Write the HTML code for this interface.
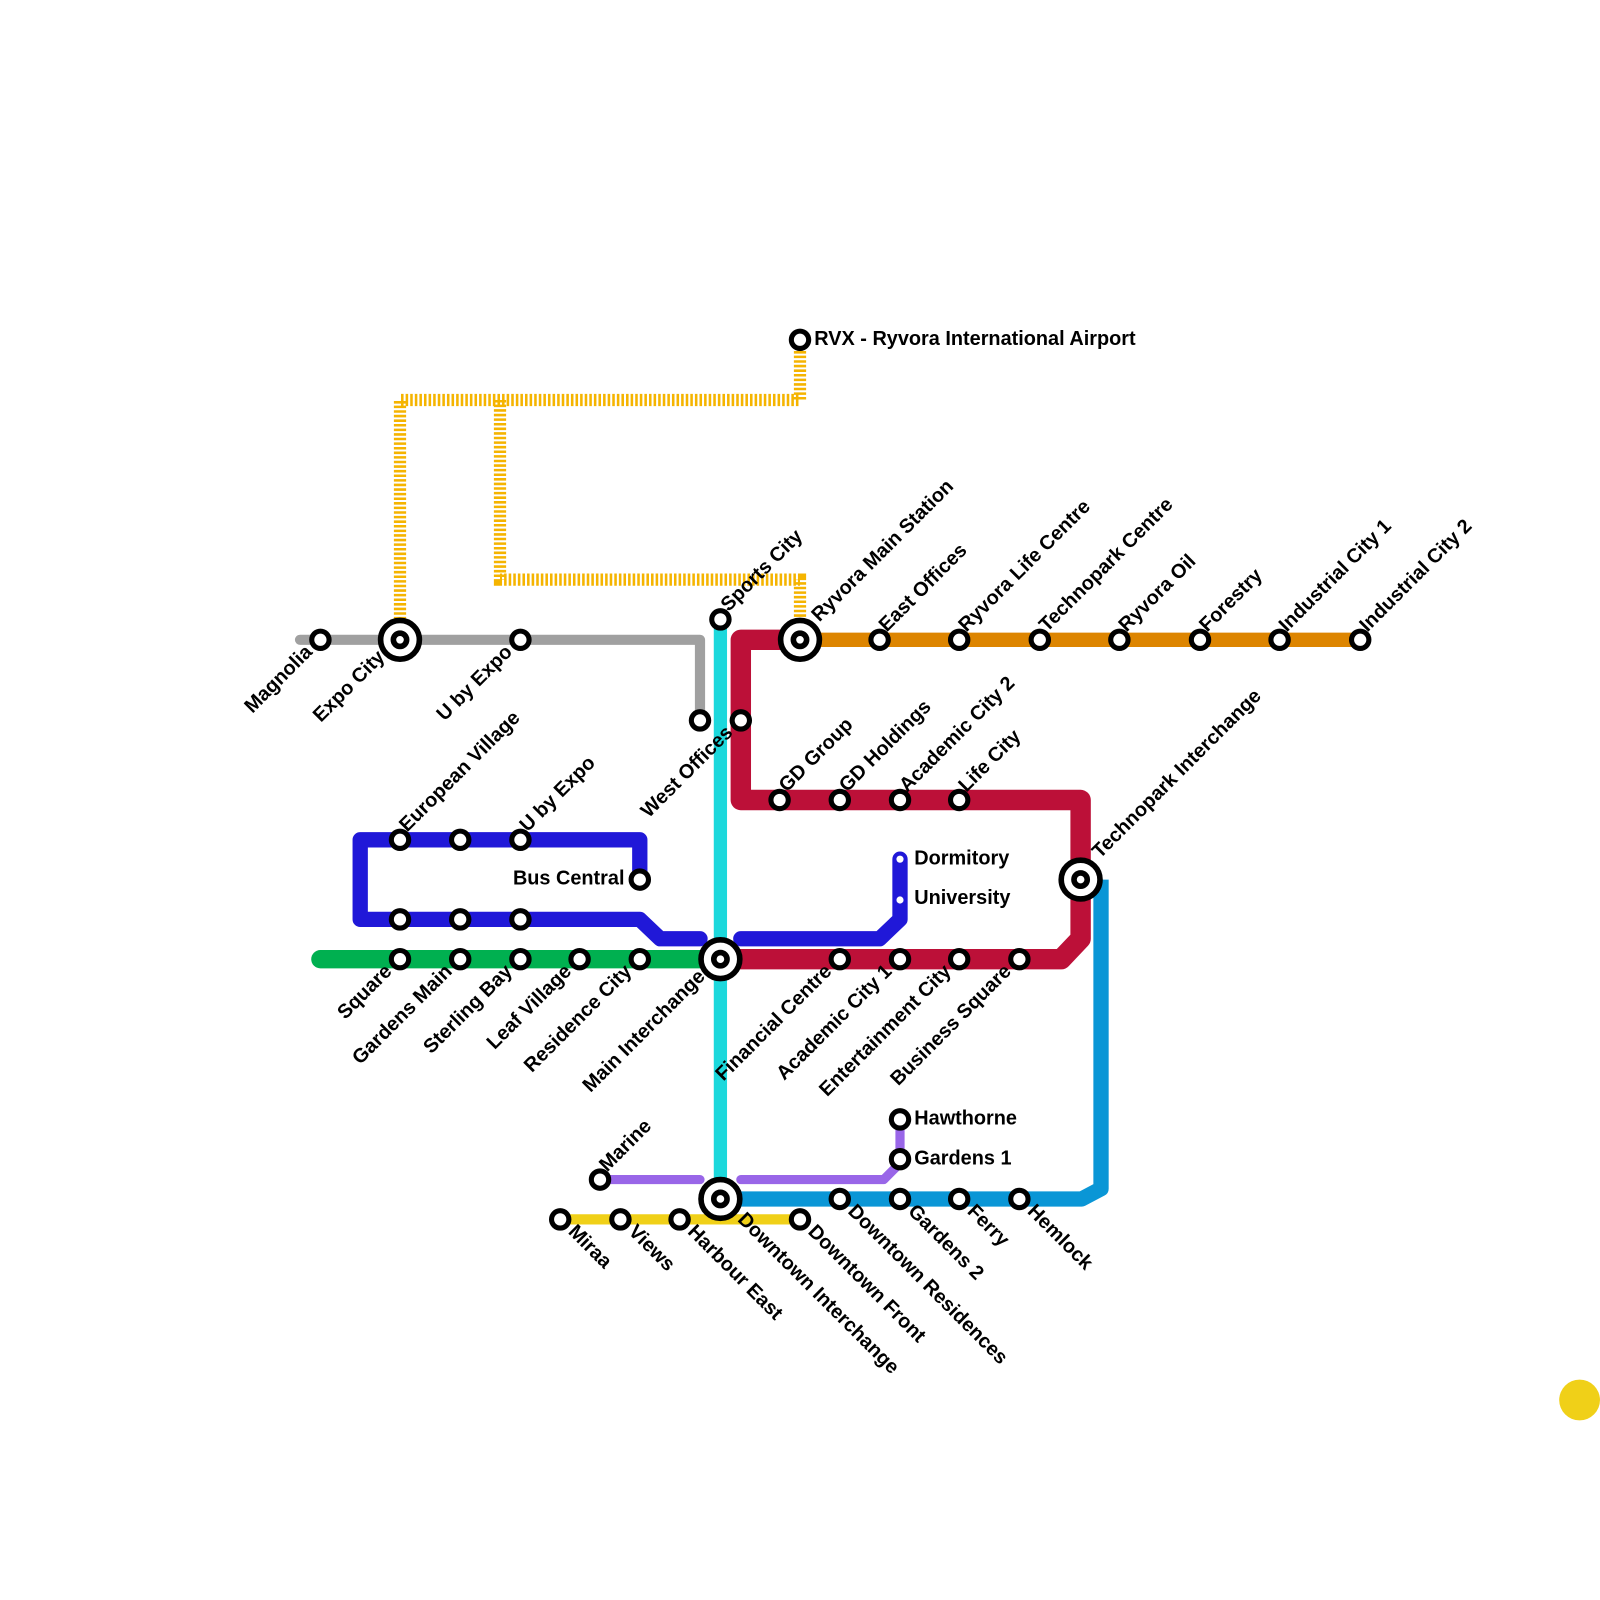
<!DOCTYPE html>
<html><head><meta charset="utf-8"><style>
html,body{margin:0;padding:0;background:#fff;}
svg{display:block;}
text{font-family:"Liberation Sans",sans-serif;font-weight:bold;font-size:19.5px;fill:#000;}
</style></head><body>
<svg width="1600" height="1600" viewBox="0 0 1600 1600" xmlns="http://www.w3.org/2000/svg">
<g transform="scale(1.020408)">
<g fill="none" stroke-linejoin="round" stroke-linecap="round">
<polyline points="392,607 392,392 784,392 784,340" stroke="#f5b400" stroke-width="12" stroke-dasharray="2.5 2" stroke-linecap="butt" stroke-linejoin="miter"/>
<polyline points="490,392 490,568 784,568 784,607" stroke="#f5b400" stroke-width="12" stroke-dasharray="2.5 2" stroke-linecap="butt" stroke-linejoin="miter"/>
<polyline points="294,627 686,627 686,706" stroke="#a0a0a0" stroke-width="10"/>
<polyline points="314,940 706,940" stroke="#00b050" stroke-width="18"/>
<polyline points="784,627 1333,627" stroke="#dd8500" stroke-width="14" stroke-linecap="butt"/>
<polyline points="706,607 706,1175" stroke="#1cd8dc" stroke-width="13"/>
<polyline points="784,627 726,627 726,784 1059,784 1059,920 1040,940 706,940" stroke="#bc1038" stroke-width="20" stroke-linecap="butt"/>
<polyline points="627,862 627,823 353,823 353,901 627,901 647,920 686,920" stroke="#2018d8" stroke-width="15"/>
<polyline points="726,920 862,920 882,901 882,842" stroke="#2018d8" stroke-width="15"/>
<polyline points="1079,862 1079,1165 1060,1175 706,1175" stroke="#0a96d6" stroke-width="15" stroke-linecap="butt"/>
<polyline points="588,1156 686,1156" stroke="#9966e8" stroke-width="9"/>
<polyline points="726,1156 866,1156 882,1140 882,1097" stroke="#9966e8" stroke-width="9"/>
<polyline points="549,1195 784,1195" stroke="#f0d018" stroke-width="10"/>
</g>
<g fill="#fff" stroke="#000" stroke-width="5">
<circle cx="314" cy="627" r="8.5"/><circle cx="510" cy="627" r="8.5"/>
<circle cx="686" cy="706" r="8.5"/><circle cx="726" cy="706" r="8.5"/>
<circle cx="706" cy="607" r="8.5"/><circle cx="784" cy="333" r="8.5"/>
<circle cx="862" cy="627" r="8.5"/><circle cx="940" cy="627" r="8.5"/><circle cx="1019" cy="627" r="8.5"/><circle cx="1097" cy="627" r="8.5"/><circle cx="1176" cy="627" r="8.5"/><circle cx="1254" cy="627" r="8.5"/><circle cx="1333" cy="627" r="8.5"/>
<circle cx="392" cy="823" r="8.5"/><circle cx="451" cy="823" r="8.5"/><circle cx="510" cy="823" r="8.5"/>
<circle cx="627" cy="862" r="8.5"/>
<circle cx="392" cy="901" r="8.5"/><circle cx="451" cy="901" r="8.5"/><circle cx="510" cy="901" r="8.5"/>
<circle cx="392" cy="940" r="8.5"/><circle cx="451" cy="940" r="8.5"/><circle cx="510" cy="940" r="8.5"/><circle cx="568" cy="940" r="8.5"/><circle cx="627" cy="940" r="8.5"/>
<circle cx="764" cy="784" r="8.5"/><circle cx="823" cy="784" r="8.5"/><circle cx="882" cy="784" r="8.5"/><circle cx="940" cy="784" r="8.5"/>
<circle cx="823" cy="940" r="8.5"/><circle cx="882" cy="940" r="8.5"/><circle cx="940" cy="940" r="8.5"/><circle cx="999" cy="940" r="8.5"/>
<circle cx="882" cy="1097" r="8.5"/><circle cx="882" cy="1136" r="8.5"/>
<circle cx="588" cy="1156" r="8.5"/>
<circle cx="823" cy="1175" r="8.5"/><circle cx="882" cy="1175" r="8.5"/><circle cx="940" cy="1175" r="8.5"/><circle cx="999" cy="1175" r="8.5"/>
<circle cx="549" cy="1195" r="8.5"/><circle cx="608" cy="1195" r="8.5"/><circle cx="666" cy="1195" r="8.5"/><circle cx="784" cy="1195" r="8.5"/>
</g>
<circle cx="882" cy="842" r="3.5" fill="#fff"/><circle cx="882" cy="882" r="3.5" fill="#fff"/>
<g fill="#fff" stroke="#000">
<circle cx="392" cy="627" r="19" stroke-width="5.5"/><circle cx="392" cy="627" r="6.5" stroke-width="5.5"/>
<circle cx="784" cy="627" r="19" stroke-width="5.5"/><circle cx="784" cy="627" r="6.5" stroke-width="5.5"/>
<circle cx="706" cy="940" r="19" stroke-width="5.5"/><circle cx="706" cy="940" r="6.5" stroke-width="5.5"/>
<circle cx="1059" cy="862" r="19" stroke-width="5.5"/><circle cx="1059" cy="862" r="6.5" stroke-width="5.5"/>
<circle cx="706" cy="1175" r="19" stroke-width="5.5"/><circle cx="706" cy="1175" r="6.5" stroke-width="5.5"/>
</g>
<circle cx="1548" cy="1372" r="20" fill="#f0d018"/>
<g>
<text transform="translate(714,600) rotate(-45)">Sports City</text>
<text transform="translate(803,610) rotate(-45)">Ryvora Main Station</text>
<text transform="translate(869,620) rotate(-45)">East Offices</text>
<text transform="translate(947,620) rotate(-45)">Ryvora Life Centre</text>
<text transform="translate(1026,620) rotate(-45)">Technopark Centre</text>
<text transform="translate(1104,620) rotate(-45)">Ryvora Oil</text>
<text transform="translate(1183,620) rotate(-45)">Forestry</text>
<text transform="translate(1261,620) rotate(-45)">Industrial City 1</text>
<text transform="translate(1340,620) rotate(-45)">Industrial City 2</text>
<text transform="translate(399,816) rotate(-45)">European Village</text>
<text transform="translate(517,816) rotate(-45)">U by Expo</text>
<text transform="translate(771,777) rotate(-45)">GD Group</text>
<text transform="translate(830,777) rotate(-45)">GD Holdings</text>
<text transform="translate(889,777) rotate(-45)">Academic City 2</text>
<text transform="translate(947,777) rotate(-45)">Life City</text>
<text transform="translate(1078,842) rotate(-45)">Technopark Interchange</text>
<text transform="translate(595,1149) rotate(-45)">Marine</text>
</g>
<g text-anchor="end">
<text transform="translate(307,640) rotate(-45)">Magnolia</text>
<text transform="translate(378,645) rotate(-45)">Expo City</text>
<text transform="translate(503,640) rotate(-45)">U by Expo</text>
<text transform="translate(719,719) rotate(-45)">West Offices</text>
<text transform="translate(385,953) rotate(-45)">Square</text>
<text transform="translate(444,953) rotate(-45)">Gardens Main</text>
<text transform="translate(503,953) rotate(-45)">Sterling Bay</text>
<text transform="translate(561,953) rotate(-45)">Leaf Village</text>
<text transform="translate(620,953) rotate(-45)">Residence City</text>
<text transform="translate(692,958) rotate(-45)">Main Interchange</text>
<text transform="translate(816,953) rotate(-45)">Financial Centre</text>
<text transform="translate(875,953) rotate(-45)">Academic City 1</text>
<text transform="translate(933,953) rotate(-45)">Entertainment City</text>
<text transform="translate(992,953) rotate(-45)">Business Square</text>
</g>
<g>
<text transform="translate(556,1208) rotate(45)">Miraa</text>
<text transform="translate(615,1208) rotate(45)">Views</text>
<text transform="translate(673,1208) rotate(45)">Harbour East</text>
<text transform="translate(722,1196) rotate(45)">Downtown Interchange</text>
<text transform="translate(791,1208) rotate(45)">Downtown Front</text>
<text transform="translate(830,1188) rotate(45)">Downtown Residences</text>
<text transform="translate(889,1188) rotate(45)">Gardens 2</text>
<text transform="translate(947,1188) rotate(45)">Ferry</text>
<text transform="translate(1006,1188) rotate(45)">Hemlock</text>
</g>
<text x="798" y="338">RVX - Ryvora International Airport</text>
<text x="896" y="847">Dormitory</text>
<text x="896" y="886">University</text>
<text x="896" y="1102">Hawthorne</text>
<text x="896" y="1141">Gardens 1</text>
<text x="612" y="867" text-anchor="end">Bus Central</text>
</g>
</svg>
</body></html>
